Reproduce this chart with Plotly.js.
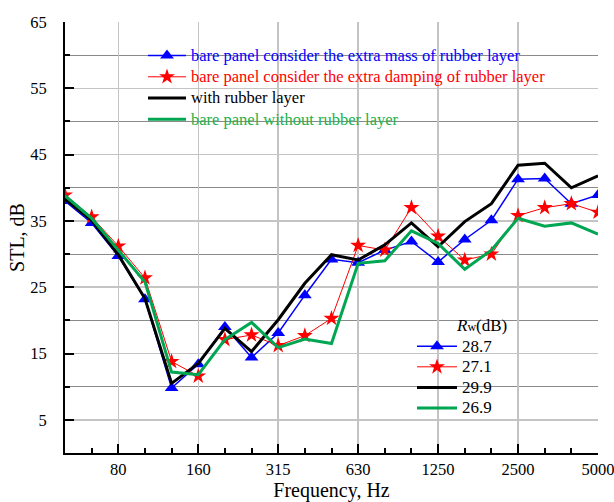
<!DOCTYPE html>
<html>
<head>
<meta charset="utf-8">
<script src="https://cdn.plot.ly/plotly-3.0.1.min.js"></script>
<style>
  html, body { margin: 0; padding: 0; background: #fff; }
  #chart { width: 614px; height: 502px; }
</style>
</head>
<body>
<div id="chart"></div>
<script>
// One-third octave band centre frequencies, Hz
const bands = [50, 63, 80, 100, 125, 160, 200, 250, 315, 400, 500, 630, 800,
               1000, 1250, 1600, 2000, 2500, 3150, 4000, 5000];
// Bands that carry a label on the frequency axis
const labelledBands = [80, 160, 315, 630, 1250, 2500, 5000];

// Sound transmission loss per band, dB
const massSTL    = [38.0, 34.7, 29.7, 23.2, 9.8, 13.4, 19.0, 14.4, 18.1, 23.8, 29.2,
                    28.7, 30.6, 31.9, 28.8, 32.2, 35.1, 41.3, 41.4, 37.6, 38.9];
const dampingSTL = [38.9, 35.6, 31.2, 26.4, 13.8, 11.6, 17.1, 17.8, 16.2, 17.7, 20.3,
                    31.3, 30.6, 37.0, 32.7, 29.1, 30.0, 35.8, 37.0, 37.6, 36.3];
const rubberSTL  = [38.3, 35.1, 29.9, 23.3, 10.5, 13.5, 18.8, 15.3, 20.1, 25.6, 29.9,
                    29.1, 31.4, 34.7, 31.1, 34.9, 37.6, 43.4, 43.7, 40.0, 41.8];
const bareSTL    = [38.8, 35.4, 30.6, 25.8, 12.2, 11.8, 17.1, 19.7, 15.9, 17.2, 16.5,
                    28.6, 29.0, 33.5, 31.6, 27.7, 30.6, 35.4, 34.2, 34.7, 33.0];

const seriesNames = [
  'bare panel consider the extra mass of rubber layer',
  'bare panel consider the extra damping of rubber layer',
  'with rubber layer',
  'bare panel without rubber layer'
];
// Weighted sound reduction index of each configuration
const rwValues = ['28.7', '27.1', '29.9', '26.9'];

const yMajorTicks = [5, 15, 25, 35, 45, 55, 65];
const yMinorTicks = [10, 20, 30, 40, 50, 60];

const serif = 'Liberation Serif, "Times New Roman", serif';

// Band index is the plotted x coordinate (equal spacing per third octave)
const bandIdx = bands.map((f, i) => i);

const styles = [
  { line: { color: '#0000ff', width: 1.5 },
    marker: { symbol: 'triangle-up', size: 12, color: '#0000ff' }, mode: 'lines+markers', text: '#0000ff' },
  { line: { color: '#ff0000', width: 1 },
    marker: { symbol: 'star', size: 12, color: '#ff0000' }, mode: 'lines+markers', text: '#ff0000' },
  { line: { color: '#000000', width: 3 }, mode: 'lines', text: '#000000' },
  { line: { color: '#00a651', width: 3 }, mode: 'lines', text: '#22b14c' }
];
const values = [massSTL, dampingSTL, rubberSTL, bareSTL];

function styled(s, extra) {
  const t = Object.assign({ type: 'scatter', mode: s.mode, line: s.line }, extra);
  if (s.marker) t.marker = s.marker;
  return t;
}

const traces = [];
values.forEach((v, k) => {
  const s = styles[k];
  traces.push(styled(s, {
    x: bandIdx, y: v,
    name: '<span style="color:' + s.text + ';font-size:16.5px">' + seriesNames[k] + '</span>',
    legend: 'legend'
  }));
});
// Second key: Rw of each curve
values.forEach((v, k) => {
  traces.push(styled(styles[k], {
    x: [null], y: [null],
    name: '<span style="font-size:17px">' + rwValues[k] + '</span>',
    legend: 'legend2', hoverinfo: 'skip'
  }));
});

const M = { l: 65, r: 16, t: 22, b: 49 };
const W = 614, H = 502;
const pw = W - M.l - M.r, ph = H - M.t - M.b;
const px = x => (x - M.l) / pw;
const py = y => (H - M.b - y) / ph;

const layout = {
  width: W, height: H,
  margin: M,
  paper_bgcolor: '#ffffff',
  plot_bgcolor: '#ffffff',
  font: { family: serif, color: '#000000', size: 16.5 },
  showlegend: true,
  xaxis: {
    range: [0, bands.length - 1],
    tickmode: 'array',
    tickvals: labelledBands.map(f => bands.indexOf(f)),
    ticktext: labelledBands.map(String),
    ticks: 'inside', ticklen: 9, tickwidth: 2, tickcolor: '#000',
    ticklabelstandoff: 0,
    ticklabeloverflow: 'allow',
    showline: true, linewidth: 2, linecolor: '#000',
    showgrid: true, gridcolor: '#c4c4c4', gridwidth: 1.5,
    zeroline: false,
    minor: { tickmode: 'array', tickvals: bandIdx, ticks: 'inside', ticklen: 5,
             tickwidth: 2, tickcolor: '#000', showgrid: false },
    tickfont: { family: serif, size: 16.5 },
    title: { text: 'Frequency, Hz', font: { family: serif, size: 20 }, standoff: 0 }
  },
  yaxis: {
    range: [0, 65],
    tickmode: 'array',
    tickvals: yMajorTicks,
    ticktext: yMajorTicks.map(String),
    ticks: 'inside', ticklen: 9, tickwidth: 2, tickcolor: '#000',
    ticklabelstandoff: 13,
    showline: true, linewidth: 2, linecolor: '#000',
    showgrid: true, gridcolor: '#c4c4c4', gridwidth: 1.5,
    zeroline: false,
    minor: { tickmode: 'array', tickvals: yMinorTicks, ticks: 'inside', ticklen: 5,
             tickwidth: 2, tickcolor: '#000', showgrid: true, gridcolor: '#8a8a8a', gridwidth: 1 },
    tickfont: { family: serif, size: 16.5 },
    title: { text: 'STL, dB', font: { family: serif, size: 20 }, standoff: 0 }
  },
  legend: {
    x: px(143), y: py(40), xanchor: 'left', yanchor: 'top',
    bgcolor: 'rgba(0,0,0,0)', borderwidth: 0,
    itemwidth: 38, tracegroupgap: 0,
    font: { family: serif, size: 14 }
  },
  legend2: {
    x: px(412), y: py(331), xanchor: 'left', yanchor: 'top',
    bgcolor: 'rgba(0,0,0,0)', borderwidth: 0,
    itemwidth: 40, tracegroupgap: 0,
    font: { family: serif, size: 13.5 }
  },
  annotations: [{
    xref: 'paper', yref: 'paper', x: px(481), y: py(325),
    xanchor: 'center', yanchor: 'middle', showarrow: false,
    text: '<i>R</i><span style="font-size:12px">w</span>(dB)',
    font: { family: serif, size: 17, color: '#000' }
  }],
  shapes: [
    { type: 'rect', xref: 'paper', yref: 'paper', layer: 'between',
      x0: px(96), x1: px(577), y0: py(131), y1: py(37),
      fillcolor: '#ffffff', line: { width: 0 } },
    { type: 'rect', xref: 'paper', yref: 'paper', layer: 'between',
      x0: px(403), x1: px(547), y0: py(422.5), y1: py(305),
      fillcolor: '#ffffff', line: { width: 0 } }
  ]
};

Plotly.newPlot('chart', traces, layout, { staticPlot: true, displayModeBar: false });
</script>
</body>
</html>
